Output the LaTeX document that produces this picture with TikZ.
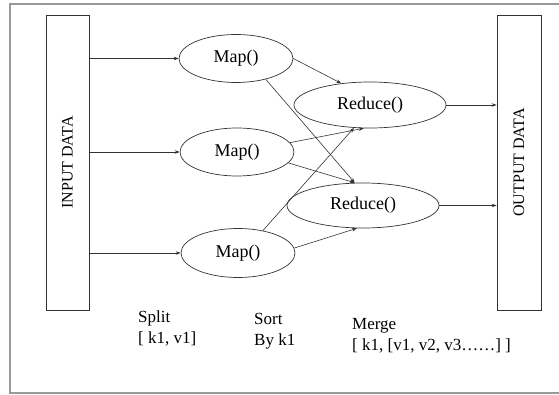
\documentclass[tikz,border=0pt]{standalone}
\usepackage{fontspec}
\setmainfont{Liberation Serif}
\usetikzlibrary{shapes.geometric,arrows.meta}
\begin{document}
\begin{tikzpicture}[x=1pt,y=-1pt,
  lbl/.style={font=\fontsize{17}{21}\selectfont, align=left, anchor=north west, inner sep=0pt},
  oval/.style={draw=black!80, line width=0.7pt, ellipse, inner sep=0pt, font=\fontsize{18}{20}\selectfont},
  bar/.style={draw=black!80, line width=0.7pt, inner sep=0pt},
  conn/.style={draw=black!80, line width=0.6pt, -{Stealth[length=5pt,width=3.5pt]}},
]
\useasboundingbox (0,0) rectangle (559,395);
\draw[gray!80, line width=2.2pt] (566,4) -- (10,4) -- (10,393) -- (566,393);
% boxes
\node[bar, minimum width=43pt, minimum height=295pt] (in) at (67.5,162.5) {};
\node[rotate=90, font=\fontsize{16}{18}\selectfont] at (in.center) {INPUT DATA};
\node[bar, minimum width=44pt, minimum height=295pt] (out) at (519,162.5) {};
\node[rotate=90, font=\fontsize{16}{18}\selectfont] at (out.center) {OUTPUT DATA};
% maps
\node[oval, minimum width=114pt, minimum height=48pt] (m1) at (236,58.5) {Map()};
\node[oval, minimum width=114pt, minimum height=48pt] (m2) at (237,152) {Map()};
\node[oval, minimum width=114pt, minimum height=49pt] (m3) at (238,253) {Map()};
% reduces
\node[oval, minimum width=152pt, minimum height=46pt] (r1) at (370,105) {Reduce()};
\node[oval, minimum width=152pt, minimum height=45pt] (r2) at (363,205.5) {Reduce()};
% input arrows
\draw[conn] (in.east |- m1) -- (m1.west);
\draw[conn] (in.east |- m2) -- (m2.west);
\draw[conn] (in.east |- m3) -- (m3.west);
% map to reduce
\draw[conn] (m1.east) -- (r1.143);
\draw[conn] (m1.-35) -- (r2.110);
\draw[conn] (m2.10) -- (r1.-105);
\draw[conn] (m2.-12) -- (r2.110);
\draw[conn] (m3.42) -- (r1.-125);
\draw[conn] (m3.5) -- (r2.-105);
% reduce to output
\draw[conn] (r1.east) -- (out.west |- r1);
\draw[conn] (r2.east) -- (out.west |- r2);
% labels
\node[lbl] (split) at (138,311) {Split\\{[} k1, v1{]}};
\node[lbl] (sort) at (254,313) {Sort\\By k1};
\node[lbl] (merge) at (352,318) {Merge\\{[} k1, {[}v1, v2, v3……{]} {]}};
\end{tikzpicture}
\end{document}
